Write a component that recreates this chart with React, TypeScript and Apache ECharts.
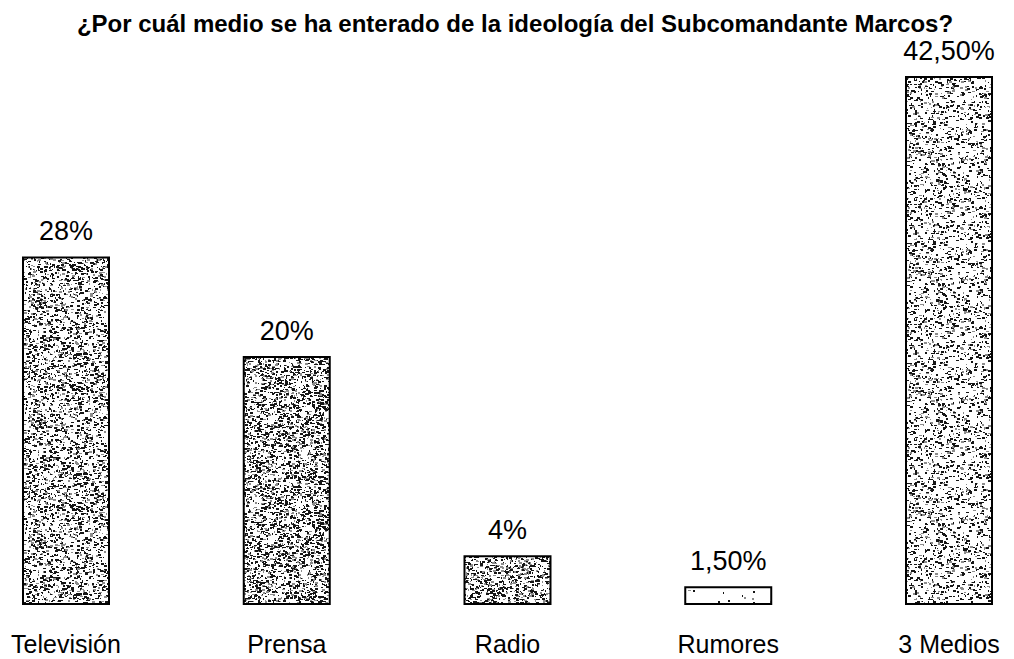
import React, { useEffect, useRef } from "react";
import * as echarts from "echarts";

const TITLE = "¿Por cuál medio se ha enterado de la ideología del Subcomandante Marcos?";
const categories = ["Televisión", "Prensa", "Radio", "Rumores", "3 Medios"];
const values = [28, 20, 4, 1.5, 42.5];
const valueLabels = ["28%", "20%", "4%", "1,50%", "42,50%"];
// texture darkness for each bar (0 = white, 1 = black)
const textureDensity = [0.5, 0.6, 0.62, 0.02, 0.33];

function makeTexture(density: number, seed: number): string {
  const size = 120;
  const c = document.createElement("canvas");
  c.width = size;
  c.height = size;
  const ctx = c.getContext("2d")!;
  ctx.fillStyle = "#ffffff";
  ctx.fillRect(0, 0, size, size);
  let s = (seed * 7919) % 233280;
  const rnd = () => {
    s = (s * 9301 + 49297) % 233280;
    return s / 233280;
  };
  const count = Math.round(size * size * density * 0.28);
  for (let k = 0; k < count; k++) {
    const x = Math.floor(rnd() * size);
    const y = Math.floor(rnd() * size);
    const w = 1 + Math.floor(rnd() * 3);
    const h = 1 + Math.floor(rnd() * 2);
    ctx.fillStyle = rnd() < 0.72 ? "#151515" : "#8c8c8c";
    ctx.fillRect(x, y, w, h);
  }
  return c.toDataURL();
}

export default function App() {
  const ref = useRef<HTMLDivElement>(null);
  useEffect(() => {
    if (!ref.current) return;
    const chart = echarts.init(ref.current, undefined, { renderer: "svg" });
    const font = "Liberation Sans, Arial, sans-serif";
    const data = values.map((v, i) => ({
      value: v,
      itemStyle: {
        color: {
          image: makeTexture(textureDensity[i], i + 3),
          repeat: "repeat",
        } as any,
        borderColor: "#000",
        borderWidth: 2,
      },
      label: { formatter: valueLabels[i] },
    }));
    chart.setOption({
      animation: false,
      backgroundColor: "#ffffff",
      title: {
        text: TITLE,
        left: 515,
        textAlign: "center",
        top: 11,
        padding: 0,
        textStyle: {
          fontFamily: font,
          fontWeight: "bold",
          fontSize: 24,
          color: "#000",
        },
      },
      grid: { left: 66, right: 65, top: 45, bottom: 54 },
      xAxis: {
        type: "category",
        data: categories,
        boundaryGap: false,
        axisLine: { show: false },
        axisTick: { show: false },
        axisLabel: {
          margin: 26,
          fontFamily: font,
          fontSize: 25,
          color: "#000",
        },
      },
      yAxis: {
        type: "value",
        min: 0,
        max: 45,
        show: false,
        splitLine: { show: false },
      },
      series: [
        {
          type: "bar",
          data,
          barWidth: 88,
          label: {
            show: true,
            position: "top",
            distance: 12,
            fontFamily: font,
            fontSize: 27,
            color: "#000",
          },
        },
      ],
    });
    return () => chart.dispose();
  }, []);
  return (
    <div
      ref={ref}
      style={{ position: "fixed", left: 0, top: 0, width: 1014, height: 659 }}
    />
  );
}
